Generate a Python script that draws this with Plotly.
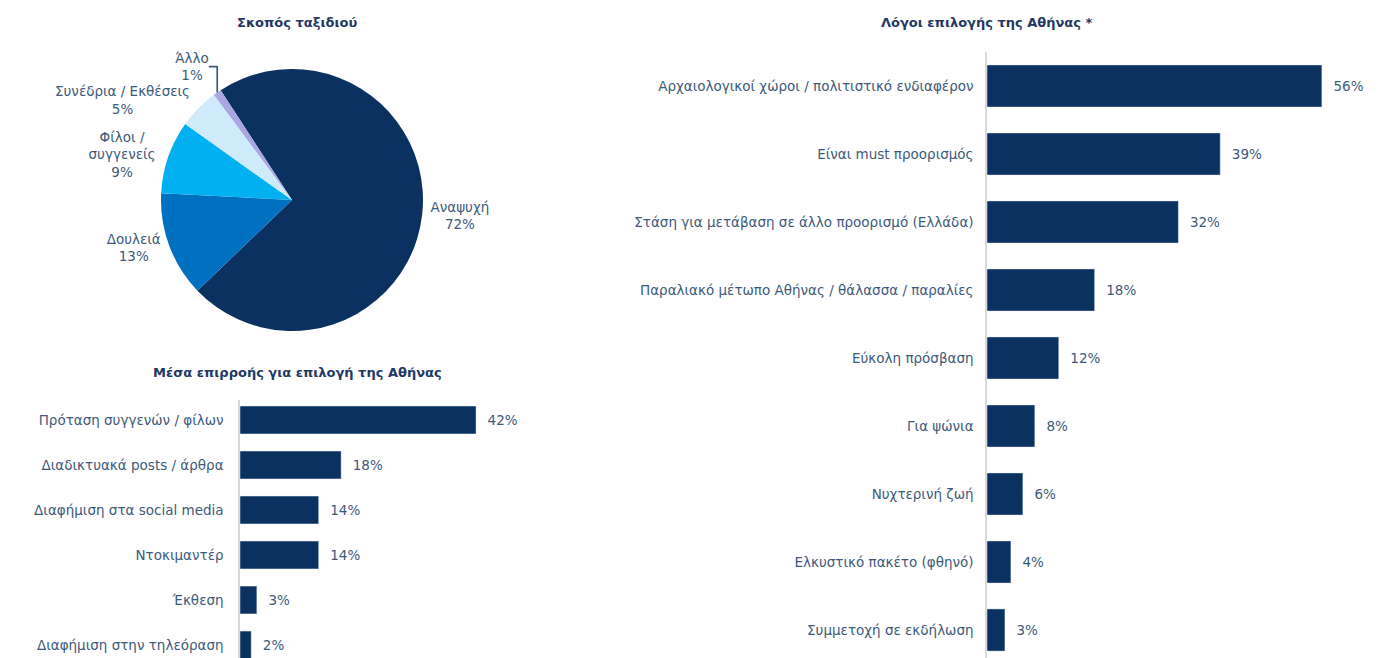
import plotly.graph_objects as go

W, H = 1392, 658
OFF = 8  # page body margin

# ---- data ----
pie_labels = ["Αναψυχή", "Δουλειά", "Φίλοι /<br>συγγενείς", "Συνέδρια / Εκθέσεις", "Άλλο"]
pie_values = [72, 13, 9, 5, 1]
pie_colors = ["#0b3160", "#0070c0", "#00b0f0", "#cfeafb", "#a9a6e2"]

media_cats = ["Πρόταση συγγενών / φίλων", "Διαδικτυακά posts / άρθρα", "Διαφήμιση στα social media",
              "Ντοκιμαντέρ", "Έκθεση", "Διαφήμιση στην τηλεόραση"]
media_vals = [42, 18, 14, 14, 3, 2]

reason_cats = ["Αρχαιολογικοί χώροι / πολιτιστικό ενδιαφέρον", "Είναι must προορισμός",
               "Στάση για μετάβαση σε άλλο προορισμό (Ελλάδα)", "Παραλιακό μέτωπο Αθήνας / θάλασσα / παραλίες",
               "Εύκολη πρόσβαση", "Για ψώνια", "Νυχτερινή ζωή", "Ελκυστικό πακέτο (φθηνό)",
               "Συμμετοχή σε εκδήλωση"]
reason_vals = [56, 39, 32, 18, 12, 8, 6, 4, 3]

BAR = "#0b3160"
TXT = "#3d5a7a"
TITLE = "#1f3864"
FONT = "DejaVu Sans, Verdana, sans-serif"
FS = 13.5

def px(x):
    return (x - OFF) / W

def py(y):
    return 1 - (y - OFF) / H

PAGE_BOTTOM = H + OFF  # page y of paper bottom

fig = go.Figure()

fig.add_trace(go.Pie(
    labels=pie_labels, values=pie_values, sort=False, direction="clockwise", rotation=-33,
    marker=dict(colors=pie_colors, line=dict(width=0)),
    texttemplate="%{label}<br>%{value}%", textposition="outside",
    outsidetextfont=dict(color=TXT, size=FS, family=FONT),
    domain=dict(x=[px(292 - 131), px(292 + 131)], y=[py(331), py(69)]),
    showlegend=False, hoverinfo="label+value",
))

NB = "\u00a0\u00a0"
fig.add_trace(go.Bar(
    y=media_cats, x=media_vals, orientation="h", marker=dict(color=BAR),
    width=0.62, text=[f"{NB}{v}%" for v in media_vals], textposition="outside",
    textfont=dict(color=TXT, size=FS, family=FONT), cliponaxis=False,
    xaxis="x", yaxis="y", showlegend=False,
))

fig.add_trace(go.Bar(
    y=reason_cats, x=reason_vals, orientation="h", marker=dict(color=BAR),
    width=0.62, text=[f"{NB}{v}%" for v in reason_vals], textposition="outside",
    textfont=dict(color=TXT, size=FS, family=FONT), cliponaxis=False,
    xaxis="x2", yaxis="y2", showlegend=False,
))

x1_l, x1_r = 240, 560
x2_l, x2_r = 987, 1392
fig.update_layout(
    xaxis=dict(domain=[px(x1_l), px(x1_r)], range=[0, (x1_r - x1_l) / 5.62], visible=False),
    yaxis=dict(domain=[0, py(400)], range=[(PAGE_BOTTOM - 420) / 45, -(420 - 400) / 45],
               showline=True, linecolor="#d9d9d9",
               linewidth=1.5, ticks="", ticklabelstandoff=12, showgrid=False, zeroline=False,
               tickfont=dict(color=TXT, size=FS, family=FONT)),
    xaxis2=dict(domain=[px(x2_l), px(x2_r)], range=[0, (x2_r - x2_l) / 5.98], visible=False,
                anchor="y2"),
    yaxis2=dict(domain=[0, py(52)], range=[(PAGE_BOTTOM - 86) / 68, -(86 - 52) / 68],
                showline=True, linecolor="#d9d9d9",
                linewidth=1.5, ticks="", ticklabelstandoff=9, showgrid=False, zeroline=False,
                anchor="x2", tickfont=dict(color=TXT, size=FS, family=FONT)),
)

titles = [
    ("Σκοπός ταξιδιού", 297, 22),
    ("Μέσα επιρροής για επιλογή της Αθήνας", 297, 372),
    ("Λόγοι επιλογής της Αθήνας *", 987, 22),
]
for t, x, y in titles:
    fig.add_annotation(text=f"<b>{t}</b>", x=px(x), y=py(y), xref="paper", yref="paper",
                       showarrow=False, xanchor="center", yanchor="middle",
                       font=dict(color=TITLE, size=13, family=FONT))

fig.update_layout(
    width=W, height=H, margin=dict(l=0, r=0, t=0, b=0),
    paper_bgcolor="white", plot_bgcolor="white",
    font=dict(family=FONT, color=TXT, size=FS),
)

fig.write_html("out.html")
